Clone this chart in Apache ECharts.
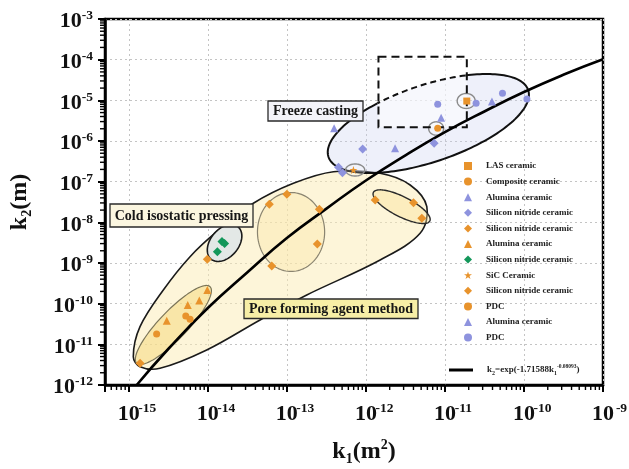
<!DOCTYPE html>
<html>
<head>
<meta charset="utf-8">
<title>k1 versus k2 permeability of porous ceramics</title>
<script src="https://cdn.jsdelivr.net/npm/echarts@6.0.0/dist/echarts.min.js"></script>
<style>
html, body { margin: 0; padding: 0; background: #ffffff; }
#chart { width: 629px; height: 469px; }
</style>
</head>
<body>
<div id="chart"></div>
<script>
// ---- Measured permeability pairs: [k1 (m^2), k2 (m)] ----
const lasCeramic = [[1.89e-11, 9.6e-6]];
const compositeCeramic = [[8.1e-12, 2.05e-6]];
const aluminaCeramicBlue = [[3.96e-13, 2.05e-6], [2.34e-12, 6.6e-7]];
const siliconNitrideBlue = [[9.1e-13, 6.4e-7], [7.3e-12, 8.8e-7], [4.5e-13, 2.26e-7], [5.05e-13, 1.66e-7]];
const siliconNitrideOrange = [[6.0e-14, 2.78e-8], [1.0e-13, 4.9e-8], [2.58e-13, 2.1e-8], [2.43e-13, 2.94e-9], [6.44e-14, 8.45e-10]];
const aluminaCeramicOrange = [[3.02e-15, 3.82e-11], [5.57e-15, 9.3e-11], [7.8e-15, 1.19e-10], [9.86e-15, 2.17e-10]];
const siliconNitrideGreen = [[1.32e-14, 1.9e-9], [1.51e-14, 3.38e-9], [1.63e-14, 3.02e-9]];
const sicCeramic = [[6.95e-13, 1.94e-7]];
const siliconNitrideOrange2 = [[1.31e-12, 3.54e-8], [4.0e-12, 3.04e-8], [5.1e-12, 1.26e-8], [9.86e-15, 1.23e-9], [1.39e-15, 3.42e-12]];
const pdcOrange = [[2.25e-15, 1.8e-11], [5.26e-15, 4.98e-11], [5.96e-15, 4.13e-11]];
const aluminaCeramicBlue2 = [[8.95e-12, 3.74e-6], [3.93e-11, 9.3e-6]];
const pdcBlue = [[8.1e-12, 8.0e-6], [2.48e-11, 8.45e-6], [5.35e-11, 1.49e-5], [1.09e-10, 1.08e-5]];

// Fitted curve k2 = exp(-1.71588 k1^-0.08093), sampled along the plotted range
const fitK1 = [1.26e-15, 3.2e-15, 1e-14, 3.2e-14, 1e-13, 3.2e-13, 1e-12, 3.2e-12, 1e-11, 3.2e-11, 1e-10, 3.2e-10, 1e-9];
const fitK2 = [1e-12, 7.9e-12, 7.8e-11, 6.0e-10, 4.1e-9, 2.2e-8, 1.07e-7, 4.5e-7, 1.65e-6, 5.4e-6, 1.6e-5, 4.3e-5, 1.02e-4];

// Legend entries, in drawing order
const legendLabels = [
  'LAS ceramic', 'Composite ceramic', 'Alumina ceramic', 'Silicon nitride ceramic',
  'Silicon nitride ceramic', 'Alumina ceramic', 'Silicon nitride ceramic', 'SiC Ceramic',
  'Silicon nitride ceramic', 'PDC', 'Alumina ceramic', 'PDC'
];
const fitLabel = 'k2 fit';

// Axis ranges and decade tick exponents
const k1Range = [5e-16, 1e-9];
const k2Range = [1e-12, 1e-3];
const k1Decades = [-15, -14, -13, -12, -11, -10, -9];
const k2Decades = [-12, -11, -10, -9, -8, -7, -6, -5, -4, -3];

// ---- Process regions, in [log10 k1, log10 k2] ----
const poreRegionOutline = [
  [-14.943, -11.303], [-14.858, -10.566], [-14.563, -9.663], [-14.225, -8.845], [-13.887, -8.230],
  [-13.424, -7.532], [-12.917, -7.040], [-12.411, -6.755], [-11.820, -6.794], [-11.440, -7.082],
  [-11.229, -7.615], [-11.314, -8.269], [-11.820, -8.926], [-12.748, -9.786], [-13.339, -10.401],
  [-14.014, -11.139], [-14.605, -11.589], [-14.858, -11.549]
];
// Ellipses: centre c and two conjugate radius tips a, b
const freezeCastingRegion = { c: [-11.21, -5.57], a: [-9.947, -4.746], b: [-11.367, -4.674] };
const coldPressingRegion = { c: [-13.788, -8.508], a: [-13.617, -8.112], b: [-13.924, -8.286] };
const lowerPoreCluster = { c: [-14.436, -10.524], a: [-13.972, -9.582], b: [-14.564, -10.286] };
const middlePoreCluster = { c: [-12.947, -8.237], a: [-12.522, -8.237], b: [-12.947, -7.266] };
const upperPoreCluster = { c: [-11.548, -7.615], a: [-11.191, -7.967], b: [-11.491, -7.396] };
const highlightRings = [
  { c: [-12.136, -6.713], a: [-12.015, -6.713], b: [-12.136, -6.565] },
  { c: [-11.111, -5.692], a: [-11.016, -5.692], b: [-11.111, -5.528] },
  { c: [-10.731, -5.016], a: [-10.617, -5.016], b: [-10.731, -4.832] }
];
const detailWindow = [[-11.841, -3.927], [-10.723, -5.663]];

const SERIF = '"Liberation Serif", "Times New Roman", serif';
const ORANGE = '#e8932c';
const BLUE = '#8e93de';
const GREEN = '#13975a';
const STAR = 'path://M5,0L6.2,3.6L10,3.6L6.9,5.8L8.1,9.5L5,7.2L1.9,9.5L3.1,5.8L0,3.6L3.8,3.6Z';

const scatterSets = [lasCeramic, compositeCeramic, aluminaCeramicBlue, siliconNitrideBlue,
  siliconNitrideOrange, aluminaCeramicOrange, siliconNitrideGreen, sicCeramic,
  siliconNitrideOrange2, pdcOrange, aluminaCeramicBlue2, pdcBlue];
const markerStyles = [
  { symbol: 'rect', size: 7, color: ORANGE },
  { symbol: 'circle', size: 7, color: ORANGE },
  { symbol: 'triangle', size: 8, color: BLUE },
  { symbol: 'diamond', size: 9, color: BLUE },
  { symbol: 'diamond', size: 9, color: ORANGE },
  { symbol: 'triangle', size: 8, color: ORANGE },
  { symbol: 'diamond', size: 9, color: GREEN },
  { symbol: STAR, size: 8, color: ORANGE },
  { symbol: 'diamond', size: 9, color: ORANGE },
  { symbol: 'circle', size: 7, color: ORANGE },
  { symbol: 'triangle', size: 8, color: BLUE },
  { symbol: 'circle', size: 7, color: BLUE }
];

// minor ticks at 2..9 x 10^n inside each axis range
function minorTicks(range) {
  const out = [];
  const e0 = Math.floor(Math.log10(range[0])), e1 = Math.ceil(Math.log10(range[1]));
  for (let e = e0; e < e1; e++) {
    for (let m = 2; m <= 9; m++) {
      const v = m * Math.pow(10, e);
      if (v >= range[0] * 0.999 && v <= range[1] * 1.001) out.push(v);
    }
  }
  return out;
}
const k1MinorTicks = minorTicks(k1Range);
const k2MinorTicks = minorTicks(k2Range);

function toPx(api, p) { return api.coord([Math.pow(10, p[0]), Math.pow(10, p[1])]); }
function ellipsePx(api, e, n) {
  const c = toPx(api, e.c), a = toPx(api, e.a), b = toPx(api, e.b);
  const pts = [];
  for (let i = 0; i < n; i++) {
    const t = 2 * Math.PI * i / n, ct = Math.cos(t), st = Math.sin(t);
    pts.push([c[0] + (a[0] - c[0]) * ct + (b[0] - c[0]) * st,
              c[1] + (a[1] - c[1]) * ct + (b[1] - c[1]) * st]);
  }
  return pts;
}

function renderRegions(params, api) {
  const kids = [];
  kids.push({ type: 'polygon', shape: { points: poreRegionOutline.map(p => toPx(api, p)), smooth: 0.35 },
    style: { fill: 'rgba(252,236,180,0.5)', stroke: '#1a1a1a', lineWidth: 1.6 } });
  kids.push({ type: 'polygon', shape: { points: ellipsePx(api, coldPressingRegion, 120) },
    style: { fill: '#e3e8e6', stroke: '#1a1a1a', lineWidth: 1.6 } });
  kids.push({ type: 'polygon', shape: { points: ellipsePx(api, lowerPoreCluster, 120) },
    style: { fill: 'rgba(245,215,120,0.5)', stroke: '#7a7458', lineWidth: 1.2 } });
  kids.push({ type: 'polygon', shape: { points: ellipsePx(api, middlePoreCluster, 120) },
    style: { fill: 'rgba(250,230,160,0.35)', stroke: '#8a8470', lineWidth: 1.2 } });
  kids.push({ type: 'polygon', shape: { points: ellipsePx(api, upperPoreCluster, 120) },
    style: { fill: 'rgba(250,225,150,0.4)', stroke: '#2a2a2a', lineWidth: 1.4 } });

  const fr = ellipsePx(api, freezeCastingRegion, 200);
  kids.push({ type: 'polygon', shape: { points: fr }, style: { fill: 'rgba(200,205,240,0.3)' } });

  const p1 = toPx(api, detailWindow[0]), p2 = toPx(api, detailWindow[1]);
  const bx0 = Math.min(p1[0], p2[0]), bx1 = Math.max(p1[0], p2[0]);
  const by0 = Math.min(p1[1], p2[1]), by1 = Math.max(p1[1], p2[1]);
  kids.push({ type: 'rect', shape: { x: bx0, y: by0, width: bx1 - bx0, height: by1 - by0 },
    style: { fill: 'rgba(255,255,255,0.55)' } });

  // freeze-casting outline: solid outside the detail window, dashed inside it
  const inside = q => q[0] > bx0 && q[0] < bx1 && q[1] > by0 && q[1] < by1;
  let run = [fr[0]], runIn = inside(fr[0]);
  const flush = () => {
    if (run.length > 1) kids.push({ type: 'polyline', shape: { points: run },
      style: { fill: null, stroke: '#111', lineWidth: 2, lineDash: runIn ? [6, 4] : null } });
  };
  for (let i = 1; i <= fr.length; i++) {
    const q = fr[i % fr.length], qi = inside(q);
    run.push(q);
    if (qi !== runIn) { flush(); run = [q]; runIn = qi; }
  }
  flush();

  highlightRings.forEach(r => kids.push({ type: 'polygon', shape: { points: ellipsePx(api, r, 60) },
    style: { fill: 'rgba(255,255,255,0.2)', stroke: '#8a8a8a', lineWidth: 1.4 } }));
  kids.push({ type: 'rect', shape: { x: bx0, y: by0, width: bx1 - bx0, height: by1 - by0 },
    style: { fill: null, stroke: '#111', lineWidth: 2, lineDash: [8, 5] } });
  return { type: 'group', children: kids };
}

function renderMinorTicks(params, api) {
  const kids = [];
  const origin = api.coord([k1Range[0], k2Range[0]]);
  k1MinorTicks.forEach(v => {
    const x = api.coord([v, k2Range[0]])[0];
    kids.push({ type: 'line', shape: { x1: x, y1: origin[1], x2: x, y2: origin[1] + 5 },
      style: { stroke: '#000', lineWidth: 1.4 } });
  });
  k2MinorTicks.forEach(v => {
    const y = api.coord([k1Range[0], v])[1];
    kids.push({ type: 'line', shape: { x1: origin[0] - 5, y1: y, x2: origin[0], y2: y },
      style: { stroke: '#000', lineWidth: 1.4 } });
  });
  return { type: 'group', children: kids };
}

function decadeOf(v, decades) {
  const l = Math.log10(v), e = Math.round(l);
  return (Math.abs(l - e) < 1e-6 && decades.indexOf(e) >= 0) ? e : null;
}
const tickRich = {
  p: { width: 15 },
  b: { fontFamily: SERIF, fontWeight: 'bold', fontSize: 22, color: '#111', lineHeight: 25 },
  s: { fontFamily: SERIF, fontWeight: 'bold', fontSize: 13.5, color: '#111', verticalAlign: 'top', lineHeight: 14 },
  sw: { fontFamily: SERIF, fontWeight: 'bold', fontSize: 13.5, color: '#111', verticalAlign: 'top', lineHeight: 14, width: 15 }
};
const nameRich = {
  k: { fontFamily: SERIF, fontWeight: 'bold', fontSize: 24, color: '#111', lineHeight: 28 },
  sb: { fontFamily: SERIF, fontWeight: 'bold', fontSize: 14, color: '#111', verticalAlign: 'bottom', lineHeight: 14 },
  sp: { fontFamily: SERIF, fontWeight: 'bold', fontSize: 14, color: '#111', verticalAlign: 'top', lineHeight: 14 }
};
const legendText = { fontFamily: SERIF, fontWeight: 'bold', fontSize: 9, color: '#222' };

function labelBox(x, y, w, h, fill, text) {
  return { type: 'group', x: x, y: y, z: 100, children: [
    { type: 'rect', z: 100, shape: { x: 0, y: 0, width: w, height: h }, style: { fill: fill, stroke: '#2a2a2a', lineWidth: 1.3 } },
    { type: 'text', z: 101, x: w / 2, y: h / 2 + 0.5, style: { text: text, fill: '#161616', font: 'bold 14px ' + SERIF, align: 'center', verticalAlign: 'middle' } }
  ] };
}

const series = [
  { type: 'custom', name: 'regions', renderItem: renderRegions, data: [[k1Range[0], k2Range[0]]], silent: true, z: 2 },
  { type: 'custom', name: 'minor ticks', renderItem: renderMinorTicks, data: [[k1Range[0], k2Range[0]]], silent: true, z: 6 },
  { type: 'line', name: fitLabel, data: fitK1.map((k, i) => [k, fitK2[i]]), smooth: true, symbol: 'none',
    lineStyle: { color: '#000', width: 2.6 }, itemStyle: { color: '#000' }, silent: true, z: 3 }
];
scatterSets.forEach((data, i) => {
  const m = markerStyles[i];
  series.push({ type: 'scatter', name: legendLabels[i] + '#' + i, data: data, symbol: m.symbol,
    symbolSize: m.size, itemStyle: { color: m.color, opacity: 1 }, silent: true, z: 4 });
});

const chart = echarts.init(document.getElementById('chart'));
chart.setOption({
  animation: false,
  backgroundColor: '#ffffff',
  grid: { left: 105, right: 26, top: 19, bottom: 84, show: true, borderColor: '#000', borderWidth: 2.5,
    backgroundColor: 'transparent', containLabel: false, outerBoundsMode: 'none' },
  xAxis: {
    type: 'log', logBase: 10, min: k1Range[0], max: k1Range[1],
    axisLine: { show: true, onZero: false, lineStyle: { color: '#000', width: 2.5 } },
    axisTick: { show: true, inside: false, length: 7, lineStyle: { color: '#000', width: 2 } },
    axisLabel: { margin: 17, color: '#111', rich: tickRich,
      formatter: v => { const e = decadeOf(v, k1Decades); return e === null ? '' : '{p| }{b|10}{sw|' + e + '}'; } },
    splitLine: { show: true, lineStyle: { color: '#c4c4c4', type: [2, 3], width: 1 } },
    minorTick: { show: false },
    name: '{k|k}{sb|1}{k|(m}{sp|2}{k|)}', nameLocation: 'middle', nameGap: 53,
    nameTextStyle: { rich: nameRich, padding: [0, 0, 0, 20] }
  },
  yAxis: {
    type: 'log', logBase: 10, min: k2Range[0], max: k2Range[1],
    axisLine: { show: true, onZero: false, lineStyle: { color: '#000', width: 2.5 } },
    axisTick: { show: true, inside: false, length: 7, lineStyle: { color: '#000', width: 2 } },
    axisLabel: { margin: 12, color: '#111', rich: tickRich, padding: [5, 0, 0, 0],
      formatter: v => { const e = decadeOf(v, k2Decades); return e === null ? '' : '{b|10}{s|' + e + '}'; } },
    splitLine: { show: true, lineStyle: { color: '#c4c4c4', type: [2, 3], width: 1 } },
    minorTick: { show: false },
    name: '{k|k}{sb|2}{k|(m)}', nameLocation: 'middle', nameGap: 71,
    nameTextStyle: { rich: nameRich }
  },
  legend: [
    {
      data: legendLabels.map((l, i) => l + '#' + i), orient: 'vertical', left: 464, top: 160, padding: 0,
      itemWidth: 8, itemHeight: 8, itemGap: 3.6, selectedMode: false, symbolKeepAspect: true,
      formatter: name => '{g| }{t|' + name.replace(/#\d+$/, '') + '}',
      textStyle: Object.assign({ lineHeight: 12, rich: { g: { width: 9 }, t: Object.assign({ lineHeight: 12 }, legendText) } }, legendText)
    },
    {
      data: [fitLabel], orient: 'vertical', left: 449, top: 364, padding: 0, itemWidth: 24, itemHeight: 3,
      icon: 'rect', selectedMode: false, itemStyle: { color: '#000' },
      formatter: () => '{g| }{k|k}{sb|2}{k|=exp(-1.71588k}{sb|1}{sp|-0.08093}{k|)}',
      textStyle: Object.assign({ rich: {
        g: { width: 9 },
        k: Object.assign({ lineHeight: 12 }, legendText),
        sb: Object.assign({}, legendText, { fontSize: 6, verticalAlign: 'bottom', lineHeight: 7 }),
        sp: Object.assign({}, legendText, { fontSize: 5.5, verticalAlign: 'top', lineHeight: 6 })
      } }, legendText)
    }
  ],
  graphic: [
    labelBox(110, 204, 143, 23, '#fbf6e0', 'Cold isostatic pressing'),
    labelBox(268, 101, 95, 20, '#f3f3f9', 'Freeze casting'),
    labelBox(244, 299, 174, 19.5, '#f7eea6', 'Pore forming agent method')
  ],
  series: series
});
</script>
</body>
</html>
